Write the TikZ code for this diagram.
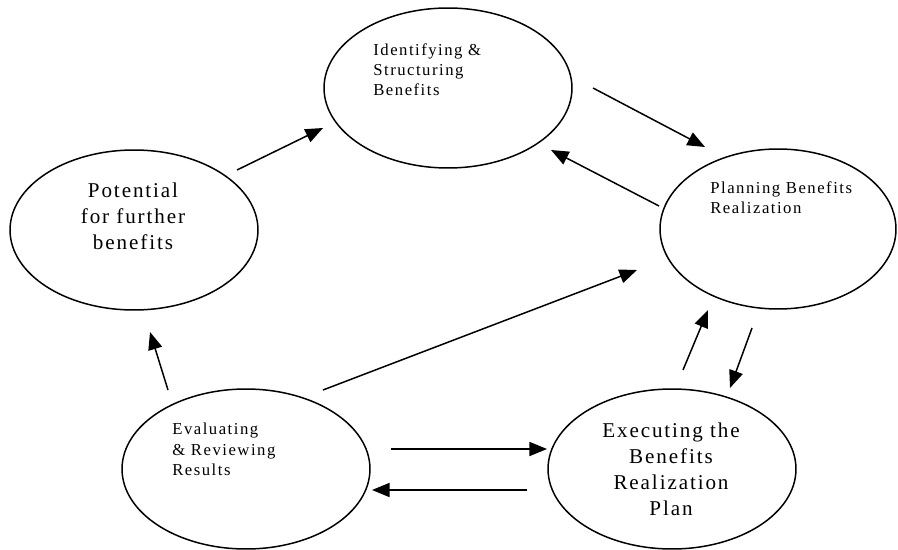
\documentclass[tikz,border=0pt]{standalone}
\usepackage{fontspec}
\setmainfont{Liberation Serif}
\newfontfamily\stagefont[LetterSpace=9]{Liberation Serif}
\usetikzlibrary{shapes.geometric,arrows.meta}
\tikzset{
  stage/.style={draw,ellipse,line width=0.85pt,minimum width=4.96cm,minimum height=3.2cm},
  small text/.style={inner sep=0pt,align=left,font=\stagefont\fontsize{9.5}{11.6}\selectfont},
  big text/.style={inner sep=0pt,align=center,font=\stagefont\fontsize{12}{14.8}\selectfont},
  flow/.style={-{Triangle[length=10pt,width=8pt]},line width=0.85pt}
}
\begin{document}
\begin{tikzpicture}[x=0.02cm,y=-0.02cm]
\useasboundingbox (0,0) rectangle (898,550);
\node[stage] (ident) at (448,88) {};
\node[stage] (potential) at (134,230) {};
\node[stage,minimum width=4.72cm] (planning) at (778,229) {};
\node[stage] (evaluating) at (246,469) {};
\node[stage] (executing) at (672,469) {};
\node[small text,anchor=north west] (identtext) at (373,43) {Identifying \&\\Structuring\\Benefits};
\node[big text,anchor=north] (potentialtext) at (133,183) {Potential\\for further\\benefits};
\node[small text,anchor=north west] (planningtext) at (710,181) {Planning Benefits\\Realization};
\node[small text,anchor=north west] (evaluatingtext) at (172,423) {Evaluating\\\& Reviewing\\Results};
\node[big text,anchor=north] (executingtext) at (671,423) {Executing the\\Benefits\\Realization\\Plan};
\coordinate (a1) at (237,170);  \coordinate (a2) at (323,128);
\coordinate (b1) at (593,88);   \coordinate (b2) at (705,147);
\coordinate (c1) at (659,206);  \coordinate (c2) at (551,150);
\coordinate (d1) at (323,390);  \coordinate (d2) at (637,270);
\coordinate (e1) at (683,370);  \coordinate (e2) at (708,310);
\coordinate (f1) at (752,328);  \coordinate (f2) at (730,388);
\coordinate (g1) at (168,390);  \coordinate (g2) at (150,332);
\coordinate (h1) at (391,449);  \coordinate (h2) at (547,449);
\coordinate (k1) at (527,490);  \coordinate (k2) at (372,490);
\draw[flow] (a1) -- (a2);
\draw[flow] (b1) -- (b2);
\draw[flow] (c1) -- (c2);
\draw[flow] (d1) -- (d2);
\draw[flow] (e1) -- (e2);
\draw[flow] (f1) -- (f2);
\draw[flow] (g1) -- (g2);
\draw[flow] (h1) -- (h2);
\draw[flow] (k1) -- (k2);
\end{tikzpicture}
\end{document}
